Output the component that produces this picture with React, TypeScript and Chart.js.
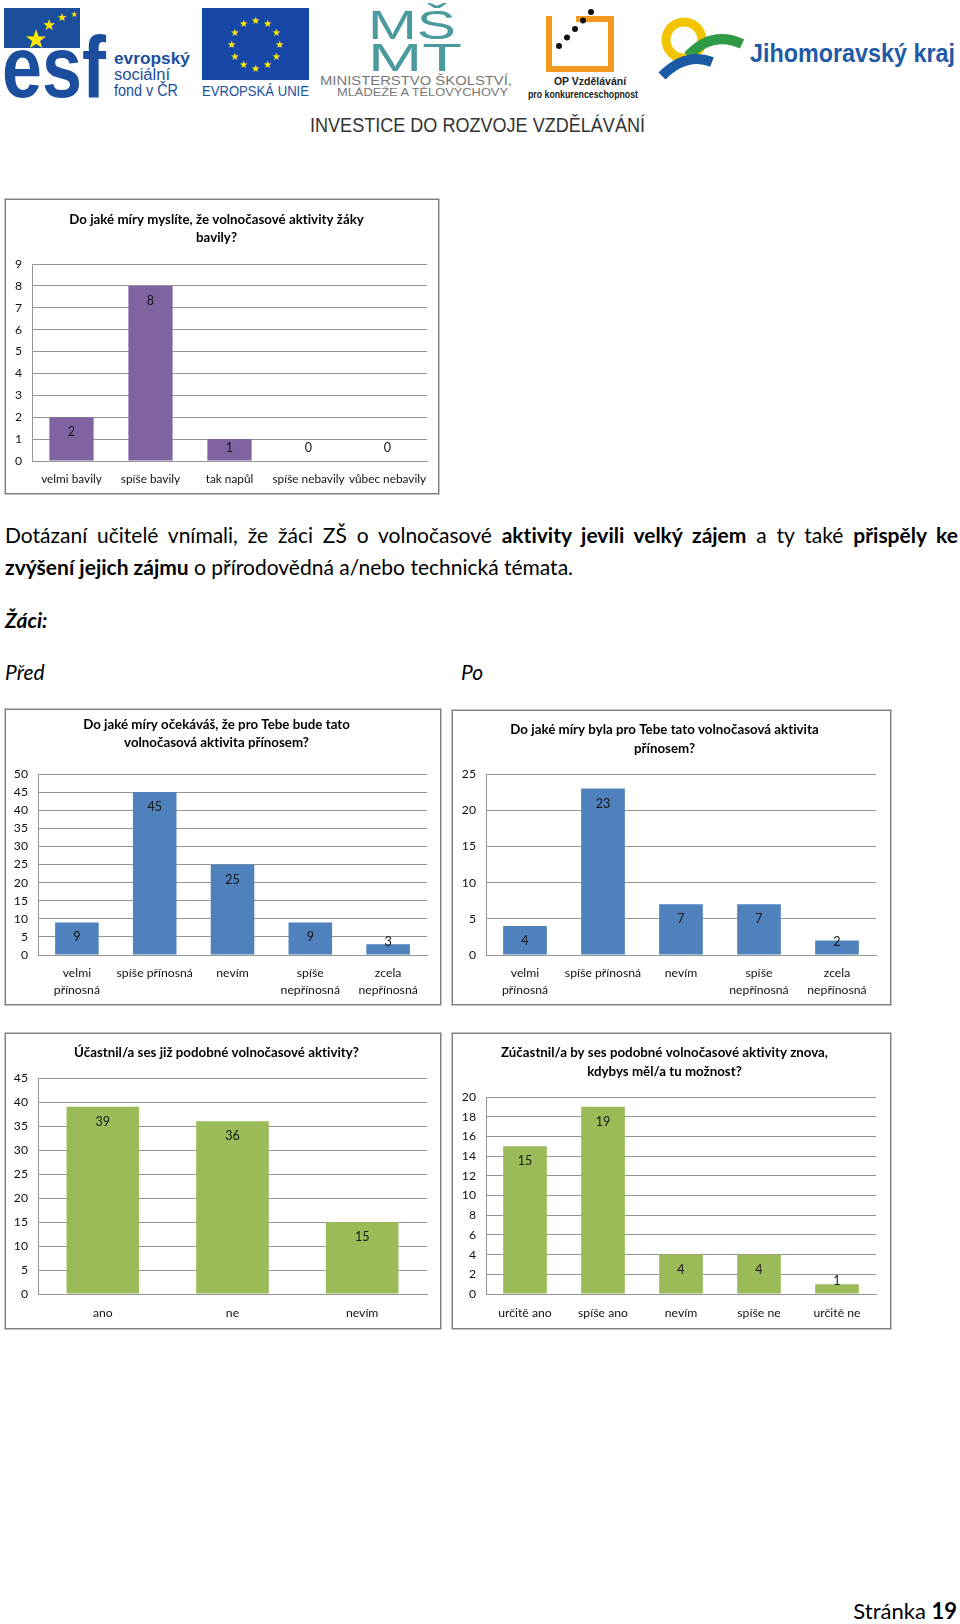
import React, { useEffect, useRef } from "react";
import { Chart, registerables } from "chart.js";

Chart.register(...registerables);
Chart.defaults.font.family = "Lato, 'Noto Sans', sans-serif";

// ---------- data ----------
const chart1Title = ["Do jaké míry myslíte, že volnočasové aktivity žáky", "bavily?"];
const chart1Labels = ["velmi bavily", "spíše bavily", "tak napůl", "spíše nebavily", "vůbec nebavily"];
const chart1Values = [2, 8, 1, 0, 0];
const chart1Axis = { max: 9, step: 1 };

const chart2Title = ["Do jaké míry očekáváš, že pro Tebe bude tato", "volnočasová aktivita přínosem?"];
const benefitLabels = [["velmi", "přínosná"], "spíše přínosná", "nevím", ["spíše", "nepřínosná"], ["zcela", "nepřínosná"]];
const chart2Values = [9, 45, 25, 9, 3];
const chart2Axis = { max: 50, step: 5 };

const chart3Title = ["Do jaké míry byla pro Tebe tato volnočasová aktivita", "přínosem?"];
const chart3Values = [4, 23, 7, 7, 2];
const chart3Axis = { max: 25, step: 5 };

const chart4Title = ["Účastnil/a ses již podobné volnočasové aktivity?"];
const chart4Labels = ["ano", "ne", "nevím"];
const chart4Values = [39, 36, 15];
const chart4Axis = { max: 45, step: 5 };

const chart5Title = ["Zúčastnil/a by ses podobné volnočasové aktivity znova,", "kdybys měl/a tu možnost?"];
const chart5Labels = ["určitě ano", "spíše ano", "nevím", "spíše ne", "určitě ne"];
const chart5Values = [15, 19, 4, 4, 1];
const chart5Axis = { max: 20, step: 2 };

const PURPLE = "#8064A2";
const BLUE = "#4F81BD";
const GREEN = "#9BBB59";

// ---------- plugins ----------
const noLigatures = {
  id: "noLigatures",
  beforeDraw(chart: any) {
    try {
      (chart.ctx as any).letterSpacing = "0.01px";
    } catch (e) {}
  },
};

const valueLabels = {
  id: "valueLabels",
  afterDatasetsDraw(chart: any) {
    const ctx = chart.ctx;
    const meta = chart.getDatasetMeta(0);
    const ds = chart.data.datasets[0];
    ctx.save();
    ctx.font = "12.5px Lato, sans-serif";
    ctx.fillStyle = "#151515";
    ctx.textAlign = "center";
    ctx.textBaseline = "middle";
    meta.data.forEach((bar: any, i: number) => {
      const p = bar.getProps(["x", "y", "base"], true);
      const ly = Math.min(p.y + 15, p.base - 13);
      ctx.fillText(String(ds.data[i]), p.x, ly);
    });
    ctx.restore();
  },
};

type BoxProps = {
  left: number;
  top: number;
  width: number;
  height: number;
  title: string[];
  labels: any[];
  values: number[];
  color: string;
  axis: { max: number; step: number };
  yWidth: number;
  xHeight: number;
  padRight: number;
  titleTop: number;
  titleBottom: number;
  titleLine: number;
  xPad: number;
  xFont?: number;
};

const TITLE_SIZE = 13.3;

function ChartBox(props: BoxProps) {
  const ref = useRef<HTMLCanvasElement | null>(null);
  useEffect(() => {
    if (!ref.current) return;
    const chart = new Chart(ref.current, {
      type: "bar",
      data: {
        labels: props.labels,
        datasets: [
          {
            data: props.values,
            backgroundColor: props.color,
            borderWidth: 0,
            categoryPercentage: 1,
            barPercentage: 0.56,
          },
        ],
      },
      options: {
        animation: false,
        responsive: true,
        maintainAspectRatio: false,
        devicePixelRatio: 1,
        layout: { padding: { left: 0, right: props.padRight, top: 0, bottom: 0 } },
        plugins: {
          legend: { display: false },
          tooltip: { enabled: false },
          title: {
            display: true,
            text: props.title,
            color: "#000",
            font: { family: "Lato, sans-serif", size: TITLE_SIZE, weight: "bold", lineHeight: props.titleLine / TITLE_SIZE },
            padding: { top: props.titleTop, bottom: props.titleBottom },
          },
        },
        scales: {
          x: {
            grid: { display: false, drawTicks: false },
            border: { display: true, color: "#959595" },
            ticks: {
              autoSkip: false,
              maxRotation: 0,
              minRotation: 0,
              padding: props.xPad,
              color: "#111",
              font: { size: props.xFont ?? 12.2, lineHeight: 1.38 },
            },
            afterFit: (s: any) => {
              s.height = props.xHeight;
            },
          },
          y: {
            min: 0,
            max: props.axis.max,
            ticks: { stepSize: props.axis.step, padding: 10, color: "#111", font: { size: 12.2 } },
            grid: { color: "#959595", drawTicks: false },
            border: { display: true, color: "#959595" },
            afterFit: (s: any) => {
              s.width = props.yWidth;
            },
          },
        },
      },
      plugins: [noLigatures, valueLabels],
    } as any);
    return () => chart.destroy();
  }, []);
  return (
    <div
      style={{
        position: "absolute",
        left: props.left,
        top: props.top,
        width: props.width,
        height: props.height,
        border: "1px solid #7f7f7f",
        boxShadow: "0 0 0 1px #c4c4c4",
        background: "#fff",
      }}
    >
      <canvas ref={ref} />
    </div>
  );
}

function Header() {
  const stars = [];
  for (let i = 0; i < 12; i++) {
    const a = (i / 12) * Math.PI * 2;
    stars.push(
      <text
        key={i}
        x={255.5 + Math.sin(a) * 24}
        y={44 - Math.cos(a) * 24}
        fontSize={10}
        fill="#FFE600"
        textAnchor="middle"
        dominantBaseline="central"
        fontFamily="DejaVu Sans"
      >
        ★
      </text>
    );
  }
  return (
    <svg width={960} height={140} style={{ position: "absolute", left: 0, top: 0 }}>
      {/* ESF */}
      <rect x={4} y={8} width={76} height={40} fill="#1C4E9E" />
      <text x={2} y={97} fontSize={88} fontWeight="bold" fill="#1C4E9E" fontFamily="Liberation Sans" textLength={104} lengthAdjust="spacingAndGlyphs">esf</text>
      <text x={36} y={48} fontSize={26} fill="#FFE600" textAnchor="middle" fontFamily="DejaVu Sans">★</text>
      <text x={49} y={30} fontSize={15} fill="#FFE600" textAnchor="middle" fontFamily="DejaVu Sans">★</text>
      <text x={62} y={21} fontSize={11} fill="#FFE600" textAnchor="middle" fontFamily="DejaVu Sans">★</text>
      <text x={74} y={17} fontSize={8} fill="#FFE600" textAnchor="middle" fontFamily="DejaVu Sans">★</text>
      <text x={114} y={64} fontSize={17} fontWeight="bold" fill="#1C4E9E" fontFamily="Liberation Sans" textLength={76} lengthAdjust="spacingAndGlyphs">evropský</text>
      <text x={114} y={80} fontSize={16} fill="#1C4E9E" fontFamily="Liberation Sans" textLength={56} lengthAdjust="spacingAndGlyphs">sociální</text>
      <text x={114} y={96} fontSize={16} fill="#1C4E9E" fontFamily="Liberation Sans" textLength={64} lengthAdjust="spacingAndGlyphs">fond v ČR</text>
      {/* EU */}
      <rect x={202} y={8} width={107} height={72} fill="#1747A6" />
      {stars}
      <text x={202} y={96} fontSize={14} fill="#1C4E9E" fontFamily="Liberation Sans" textLength={107} lengthAdjust="spacingAndGlyphs">EVROPSKÁ UNIE</text>
      {/* MSMT */}
      <text x={368} y={39} fontSize={40} fill="#4A9A9E" fontFamily="Liberation Sans" textLength={88} lengthAdjust="spacingAndGlyphs">MŠ</text>
      <text x={368} y={71} fontSize={38} fill="#4A9A9E" fontFamily="Liberation Sans" textLength={94} lengthAdjust="spacingAndGlyphs">MT</text>
      <text x={320} y={85} fontSize={13} fill="#777" fontFamily="Liberation Sans" textLength={192} lengthAdjust="spacingAndGlyphs">MINISTERSTVO ŠKOLSTVÍ,</text>
      <text x={337} y={96} fontSize={10.5} fill="#777" fontFamily="Liberation Sans" textLength={171} lengthAdjust="spacingAndGlyphs">MLÁDEŽE A TĚLOVÝCHOVY</text>
      {/* OP */}
      <rect x={549} y={19} width={62} height={50} fill="none" stroke="#F39A1E" strokeWidth={6} />
      <rect x={552} y={14} width={24} height={12} fill="#fff" />
      {[0, 1, 2, 3, 4].map((i) => (
        <circle key={i} cx={559 + i * 8} cy={46 - i * 8.5} r={3} fill="#111" />
      ))}
      <text x={590} y={85} fontSize={10.5} fontWeight="bold" fill="#222" textAnchor="middle" fontFamily="Liberation Sans">OP Vzdělávání</text>
      <text x={528} y={98} fontSize={10.5} fontWeight="bold" fill="#222" fontFamily="Liberation Sans" textLength={110} lengthAdjust="spacingAndGlyphs">pro konkurenceschopnost</text>
      {/* JMK */}
      <circle cx={684} cy={40} r={18} fill="none" stroke="#F2C500" strokeWidth={9} />
      <path d="M688 56 Q712 30 742 44" fill="none" stroke="#2E9A46" strokeWidth={10} />
      <path d="M662 76 Q686 52 712 62" fill="none" stroke="#1B5AA5" strokeWidth={10} />
      <text x={750} y={62} fontSize={25} fontWeight="bold" fill="#1F5AA6" fontFamily="Liberation Sans" textLength={205} lengthAdjust="spacingAndGlyphs">Jihomoravský kraj</text>
      <text x={310} y={132} fontSize={20} fill="#333" fontFamily="Liberation Sans" textLength={335} lengthAdjust="spacingAndGlyphs">INVESTICE DO ROZVOJE VZDĚLÁVÁNÍ</text>
    </svg>
  );
}

export default function App() {
  const body: React.CSSProperties = {
    position: "absolute",
    left: 5,
    fontSize: 21,
    lineHeight: "32px",
    color: "#000",
    whiteSpace: "nowrap",
    fontVariantLigatures: "none",
  };
  return (
    <div style={{ position: "absolute", left: 0, top: 0, width: 960, height: 1624, background: "#fff", fontFamily: "Lato, sans-serif", overflow: "hidden" }}>
      <Header />
      <ChartBox left={5} top={199} width={432} height={293} title={chart1Title} labels={chart1Labels} values={chart1Values} color={PURPLE} axis={chart1Axis} yWidth={26} xHeight={32} padRight={11} titleTop={11} titleBottom={17} titleLine={18} xPad={10} xFont={11.8} />
      <div style={{ ...body, top: 519, width: 953, textAlign: "justify", textAlignLast: "justify", wordSpacing: -2 }}>
        Dotázaní učitelé vnímali, že žáci ZŠ o volnočasové <b>aktivity jevili velký zájem</b> a ty také <b>přispěly ke</b>
      </div>
      <div style={{ ...body, top: 551 }}>
        <b>zvýšení jejich zájmu</b> o přírodovědná a/nebo technická témata.
      </div>
      <div style={{ ...body, top: 604, fontWeight: "bold", fontStyle: "italic" }}>Žáci:</div>
      <div style={{ ...body, top: 656, fontStyle: "italic" }}>Před</div>
      <div style={{ ...body, left: 461, top: 656, fontStyle: "italic" }}>Po</div>
      <ChartBox left={5} top={709} width={434} height={294} title={chart2Title} labels={benefitLabels} values={chart2Values} color={BLUE} axis={chart2Axis} yWidth={32} xHeight={49} padRight={13} titleTop={6} titleBottom={22} titleLine={18} xPad={10} />
      <ChartBox left={452} top={710} width={437} height={293} title={chart3Title} labels={benefitLabels} values={chart3Values} color={BLUE} axis={chart3Axis} yWidth={33} xHeight={49} padRight={14} titleTop={9.5} titleBottom={15.5} titleLine={19} xPad={10} />
      <ChartBox left={5} top={1033} width={434} height={294} title={chart4Title} labels={chart4Labels} values={chart4Values} color={GREEN} axis={chart4Axis} yWidth={32} xHeight={34} padRight={13} titleTop={10} titleBottom={16} titleLine={18} xPad={11} />
      <ChartBox left={452} top={1033} width={437} height={294} title={chart5Title} labels={chart5Labels} values={chart5Values} color={GREEN} axis={chart5Axis} yWidth={33} xHeight={34} padRight={14} titleTop={9.5} titleBottom={15.5} titleLine={19} xPad={11} />
      <div style={{ position: "absolute", right: 3, top: 1597, fontSize: 22, lineHeight: "28px", color: "#000" }}>
        Stránka <b>19</b>
      </div>
    </div>
  );
}
